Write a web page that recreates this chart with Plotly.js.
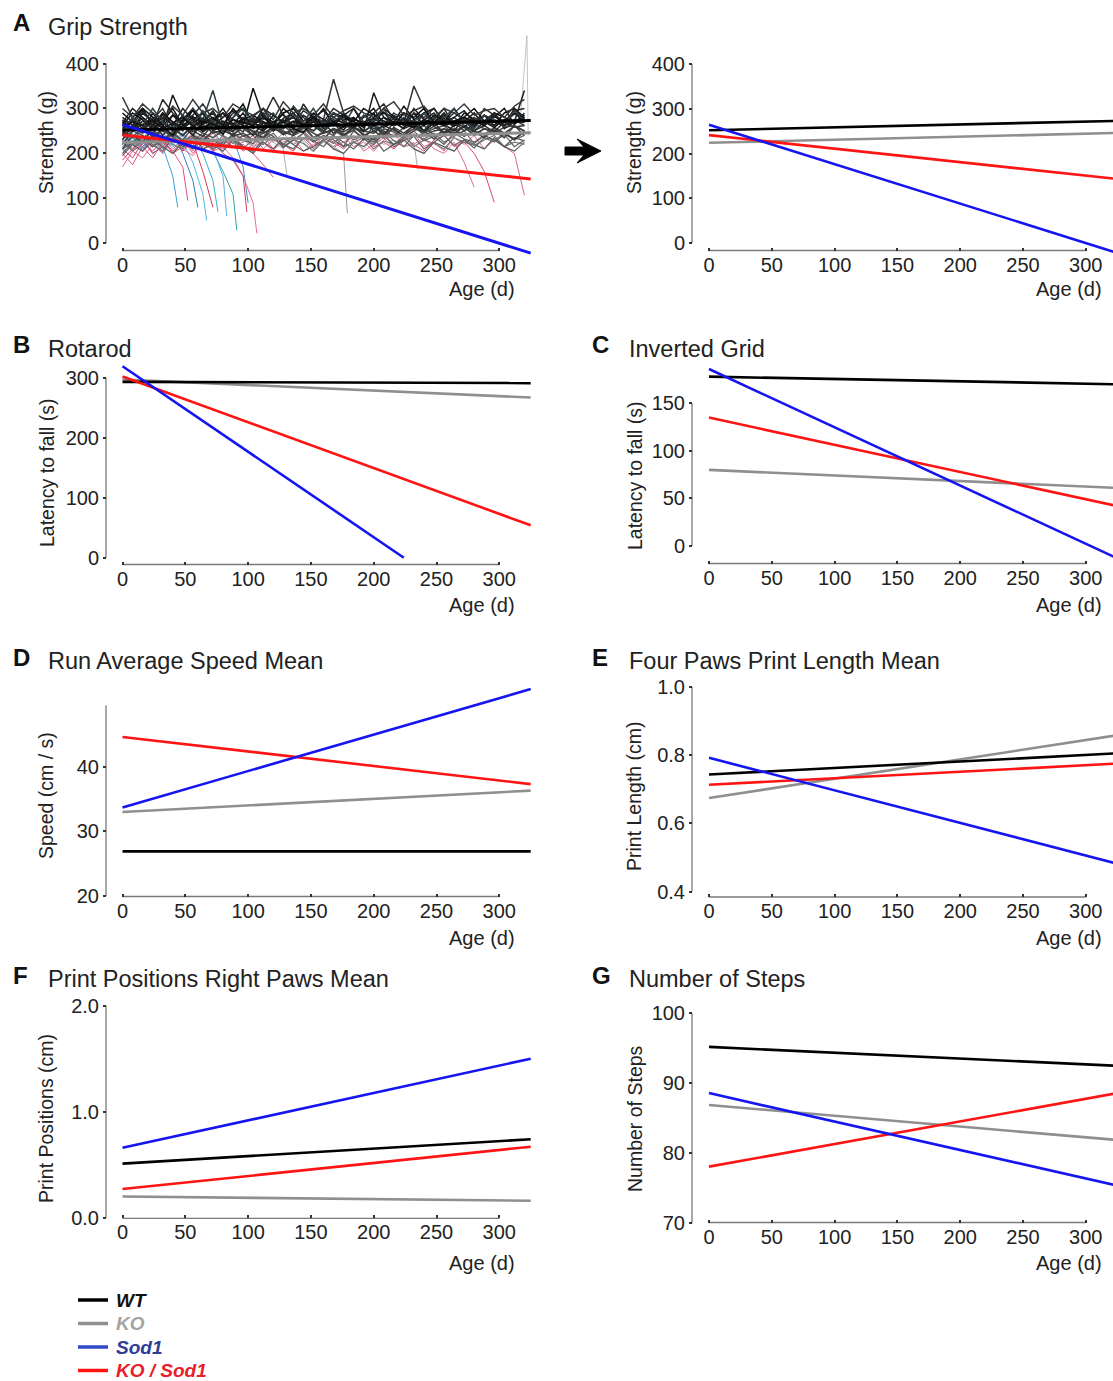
<!DOCTYPE html>
<html><head><meta charset="utf-8">
<script src="https://cdn.plot.ly/plotly-3.0.1.min.js"></script>
<style>html,body{margin:0;padding:0;background:#fff;overflow:hidden}#chart{width:1113px;height:1381px}</style>
</head><body><div id="chart"></div>
<script>
// ---------------- DATA ----------------
const groupNames = ['WT', 'KO', 'Sod1', 'KO / Sod1'];
const xTickVals = [0, 50, 100, 150, 200, 250, 300];
const xTickText = ['0', '50', '100', '150', '200', '250', '300'];
const meanAges = [0, 325];

// Grip strength regression lines (A)
const gripWT = [252, 273];
const gripKO = [224, 246];
const gripSod1 = [264, -22];
const gripKOSod1 = [241, 143];
// Rotarod (B)
const rotaWT = [293, 291];
const rotaKO = [297, 267];
const rotaSod1Ages = [0, 224];
const rotaSod1 = [319, 0];
const rotaKOSod1 = [302, 54];
// Inverted grid (C)
const gridWT = [178, 170];
const gridKO = [80, 61];
const gridSod1 = [186, -13];
const gridKOSod1 = [135, 42];
// Run average speed mean (D)
const speedWT = [26.9, 26.9];
const speedKO = [33.0, 36.3];
const speedSod1 = [33.7, 52.0];
const speedKOSod1 = [44.6, 37.3];
// Four paws print length mean (E)
const lengthWT = [0.743, 0.805];
const lengthKO = [0.674, 0.858];
const lengthSod1 = [0.792, 0.482];
const lengthKOSod1 = [0.713, 0.775];
// Print positions right paws mean (F)
const posWT = [0.51, 0.74];
const posKO = [0.20, 0.16];
const posSod1 = [0.66, 1.50];
const posKOSod1 = [0.27, 0.67];
// Number of steps (G)
const stepsWT = [95.2, 92.5];
const stepsKO = [86.9, 81.9];
const stepsSod1 = [88.6, 75.4];
const stepsKOSod1 = [78.1, 88.6];

// y tick values / labels
const gripTicks = [0, 100, 200, 300, 400];
const gripTickText = ['0', '100', '200', '300', '400'];
const rotaTicks = [0, 100, 200, 300];
const rotaTickText = ['0', '100', '200', '300'];
const gridTicks = [0, 50, 100, 150];
const gridTickText = ['0', '50', '100', '150'];
const speedTicks = [20, 30, 40];
const speedTickText = ['20', '30', '40'];
const lengthTicks = [0.4, 0.6, 0.8, 1.0];
const lengthTickText = ['0.4', '0.6', '0.8', '1.0'];
const posTicks = [0, 1, 2];
const posTickText = ['0.0', '1.0', '2.0'];
const stepsTicks = [70, 80, 90, 100];
const stepsTickText = ['70', '80', '90', '100'];

// Individual grip-strength traces (A, left) - ages in days
const ages = [0,8,16,24,32,40,48,56,64,72,80,88,96,104,112,120,128,136,144,152,160,168,176,184,192,200,208,216,224,232,240,248,256,264,272,280,288,296,304,312,320];
const w1 = [255,270,248,290,262,240,275,300,258,266,242,280,310,262,250,270,288,255,246,272,300,268,252,280,262,290,258,270,305,276,250,268,290,262,275,258,285,270,262,300,275];
const w2 = [240,280,300,262,250,285,262,240,270,295,258,248,276,262,288,250,270,262,310,278,255,265,290,270,250,335,280,262,270,258,290,300,265,250,280,272,262,290,255,270,340];
const w3 = [230,262,250,275,300,258,240,265,290,250,270,262,248,282,300,262,255,270,262,250,275,365,290,262,270,255,260,285,268,350,300,262,270,280,262,250,270,262,275,265,280];
const w4 = [275,250,290,270,258,330,280,262,250,272,300,265,290,255,270,262,300,280,262,270,258,290,272,262,280,300,265,270,255,290,262,275,300,262,270,290,262,280,300,265,290];
const w5 = [210,240,225,255,230,245,270,240,228,250,262,238,245,230,255,270,242,250,262,235,248,270,240,252,230,262,245,255,238,265,250,232,255,245,260,240,255,250,235,262,240];
const w6 = [325,280,262,240,290,270,250,300,275,340,262,250,280,270,290,262,255,305,280,262,250,270,262,300,270,250,262,290,275,262,250,280,262,270,250,262,285,270,262,275,262];
const w7 = [200,225,240,215,230,250,225,210,240,228,218,245,230,222,250,238,215,230,245,225,240,230,215,250,235,225,240,220,235,250,228,238,220,245,232,225,240,230,215,235,228];
const w8 = [245,220,235,250,228,240,215,235,225,250,238,222,240,228,245,232,220,240,250,228,235,222,245,230,240,225,250,228,215,240,232,245,225,238,250,222,240,228,245,230,240];
const w9 = [262,290,275,255,270,300,262,280,255,270,290,275,262,345,280,262,270,255,285,270,262,290,275,280,262,270,300,282,262,275,290,262,270,300,268,275,262,285,270,290,270];
const w10 = [220,250,265,235,255,240,262,250,238,265,250,242,260,248,235,262,250,240,258,245,232,255,248,260,240,250,235,258,245,262,240,250,255,240,262,248,235,255,245,230,250];
const w11 = [268,300,280,262,320,290,270,285,310,275,262,290,300,270,280,325,285,262,295,280,270,300,285,262,280,290,310,275,262,290,280,300,270,290,275,262,300,285,270,295,300];
const w12 = [250,235,260,245,270,255,240,262,275,250,245,265,255,240,268,250,262,245,255,270,250,240,262,255,248,265,250,238,258,270,245,255,262,240,250,265,255,245,258,262,250];
const w13 = [290,270,300,280,262,285,272,295,268,280,262,300,275,285,270,262,290,300,272,282,265,290,280,270,300,285,272,262,290,280,300,270,285,262,280,300,272,290,280,270,285];
const w14 = [225,205,230,215,240,220,210,235,225,215,240,228,210,232,220,238,212,230,222,205,228,240,215,225,235,210,228,220,240,215,230,222,210,235,225,218,230,240,215,225,220];
const w15 = [195,220,205,230,215,200,225,240,210,220,205,230,215,200,225,210,235,220,205,215,230,210,200,225,215,235,205,220,230,210,200,225,215,205,230,220,210,235,215,205,225];
const w16 = [280,262,295,270,285,262,300,275,290,262,280,295,270,262,300,285,270,290,262,280,295,270,285,300,262,275,290,280,265,300,275,290,262,280,295,270,285,262,290,300,280];
const w17 = [245,262,250,270,240,265,255,275,248,262,270,250,262,240,268,255,275,245,262,250,268,245,260,272,250,262,240,270,255,265,250,268,245,262,275,250,262,248,270,258,262];
const w18 = [262,275,255,280,268,250,285,262,272,290,258,275,265,280,262,255,278,290,265,272,262,280,268,255,285,270,262,278,290,265,272,262,285,270,258,280,268,290,262,275,268];
const w19 = [232,250,240,225,255,242,230,258,245,235,250,262,238,245,232,255,248,240,258,235,245,252,238,260,242,230,255,248,235,250,262,240,248,255,238,250,242,258,245,232,248];
const w20 = [300,280,310,290,275,305,285,320,290,300,280,310,295,285,300,275,315,290,300,285,310,280,295,305,290,280,300,315,285,295,305,280,300,290,310,285,295,300,280,305,320];
const w21 = [210,225,240,220,205,235,215,228,245,210,225,238,215,205,230,245,220,210,235,228,215,240,225,210,232,220,245,215,228,238,210,225,240,218,230,212,235,225,242,215,230];
const w22 = [270,255,280,262,290,270,258,282,265,275,290,262,278,270,255,285,268,280,262,290,275,262,285,270,258,280,292,265,278,270,262,285,272,260,290,275,262,282,270,288,278];
const w23 = [250,280,262,300,270,255,285,265,295,270,255,280,300,265,275,290,260,285,270,300,262,290,275,255,285,270,300,262,280,270,290,265,280,300,270,255,285,275,262,295,272];
const w24 = [258,270,262,275,255,268,280,260,272,265,258,275,268,262,280,270,258,272,265,278,262,270,258,275,268,262,280,270,265,258,275,268,262,272,280,265,270,258,275,268,272];
const w25 = [268,255,272,262,280,265,258,270,278,262,272,265,258,275,268,262,272,280,265,270,262,275,268,258,270,278,262,268,275,262,270,265,278,262,268,275,265,272,262,270,276];
const w26 = [240,255,245,262,250,238,258,248,265,245,252,240,260,250,245,258,242,255,248,262,245,255,240,258,250,245,262,252,240,255,248,260,245,252,258,242,255,250,245,260,250];
const spikeAges = [316, 322, 323];
const spikeVals = [250, 462, 240];
// grey (KO) traces that stop early
const g1Ages = [0,8,16,24,32,40,48,56,64,72,80,88,96,104,112,120,128,136,144,152,160,168,176,179];
const g1 = [215,235,220,240,210,230,245,225,215,235,220,240,230,215,235,225,245,220,230,210,225,215,200,67];
const g2Ages = [0,8,16,24,32,40,48,56,64,72,80,88,96,104,112,120,128,136,144,152,160,168,176,184,192,200,208,216,224,232,235];
const g2 = [230,215,240,225,210,235,220,245,230,215,225,240,210,230,220,235,215,240,225,205,230,215,240,225,210,235,220,230,215,225,165];
const g3Ages = [0,8,16,24,32,40,48,56,64,72,80,88,96,104,112,120,128,131];
const g3 = [225,240,215,230,245,220,235,210,240,225,230,215,240,220,235,225,210,150];
// Sod1 (cyan / blue) traces
const c1Ages = [0,8,16,24,32,40,44];
const c1 = [230,210,235,200,215,150,80];
const c2Ages = [0,8,16,24,32,40,48,56,60];
const c2 = [250,225,260,235,220,245,200,140,80];
const c3Ages = [0,8,16,24,32,40,48,56,64,67];
const c3 = [215,240,205,230,250,215,225,180,110,51];
const c4Ages = [0,8,16,24,32,40,48,56,64,72,80,88,91];
const c4 = [240,222,255,230,215,245,228,210,235,205,160,110,29];
const c5Ages = [0,8,16,24,32,40,48,56,64,72,80,83];
const c5 = [205,230,215,240,200,225,245,215,230,210,150,60];
const c6Ages = [0,8,16,24,32,40,48,56,64,72,80,88,96,100];
const c6 = [225,245,215,235,260,225,240,215,230,250,220,235,170,90];
const c7Ages = [0,8,16,24,32,40,48,56,64,72,76];
const c7 = [220,240,210,235,225,245,215,230,200,140,70];
// KO / Sod1 (pink / red) traces
const r1Ages = [0,8,16,24,32,40,48,52];
const r1 = [200,175,215,190,225,205,170,95];
const r2Ages = [0,8,16,24,32,40,48,56,64,72];
const r2 = [185,210,230,200,215,240,205,225,160,80];
const r3Ages = [0,8,16,24,32,40,48,56,64,72,80,88,96,104,107];
const r3 = [170,205,190,220,200,235,210,195,225,205,215,190,150,90,22];
const r4Ages = [0,8,16,24,32,40,48,56,64,72,80,88,96,99];
const r4 = [210,190,225,205,230,200,215,240,210,225,200,185,150,70];
const r5Ages = [0,8,16,24,32,40,48,56,64,72,80,88,96,104,112,120];
const r5 = [230,205,220,245,215,235,210,225,240,205,230,215,220,200,175,147];
const r6Ages = [0,8,16,24,32,40,48,56,64,72,80,88,96,104,112,120,128,136,144,152,160,168,176,184,192,200,208,216,224,232,240,248,256,264,272,280];
const r6 = [215,235,205,225,240,210,230,200,225,245,215,230,205,220,240,210,225,235,205,220,230,210,240,215,225,205,230,245,215,220,235,210,200,225,180,125];
const r7Ages = [0,8,16,24,32,40,48,56,64,72,80,88,96,104,112,120,128,136,144,152,160,168,176,184,192,200,208,216,224,232,240,248,256,264,272,280,288,296];
const r7 = [225,210,240,215,230,205,225,245,220,210,235,215,225,240,210,230,220,205,235,215,240,225,210,230,245,215,225,210,235,220,205,230,240,215,225,200,160,91];
const r8 = [220,240,210,230,215,245,225,205,235,220,210,230,240,215,225,205,235,220,245,210,230,215,225,240,205,220,235,210,230,245,215,225,205,235,220,240,210,230,215,200,107];

// ---------------- LAYOUT HELPERS ----------------
const W = 1113, H = 1381;
const fx = p => p / W;
const fy = p => 1 - p / H;
const FONT = 'Liberation Sans, Arial, Helvetica, sans-serif';
const TXT = '#222222';
const AXL = '#7a7a7a';
const C = {WT: '#000000', KO: '#8f8f8f', Sod1: '#1515f2', KOSod1: '#ff1414'};
const PPD = 1.256; // pixels per day

// pixel geometry of each panel
const panels = [
  {col: 0, x0: 122.5, yl: 106, vA: 400, pA: 63.5, vB: 0, pB: 243.3, top: 28, bot: 262, axY: 250.5, ticks: gripTicks, tt: gripTickText, lo: 0, hi: 400},
  {col: 1, x0: 709, yl: 692, vA: 400, pA: 64, vB: 0, pB: 243, top: 28, bot: 262, axY: 250.5, ticks: gripTicks, tt: gripTickText, lo: 0, hi: 400},
  {col: 0, x0: 122.5, yl: 106, vA: 300, pA: 377.7, vB: 0, pB: 557.7, top: 355, bot: 575, axY: 564.5, ticks: rotaTicks, tt: rotaTickText, lo: 0, hi: 300},
  {col: 1, x0: 709, yl: 692, vA: 150, pA: 403.3, vB: 0, pB: 546, top: 355, bot: 575, axY: 563.5, ticks: gridTicks, tt: gridTickText, lo: 0, hi: 150},
  {col: 0, x0: 122.5, yl: 106, vA: 40, pA: 766.7, vB: 20, pB: 896, top: 672, bot: 905, axY: 896.5, ticks: speedTicks, tt: speedTickText, lo: 20, hi: 49.5},
  {col: 1, x0: 709, yl: 692, vA: 1.0, pA: 686.7, vB: 0.4, pB: 891.7, top: 672, bot: 905, axY: 897, ticks: lengthTicks, tt: lengthTickText, lo: 0.4, hi: 1.0},
  {col: 0, x0: 122.5, yl: 106, vA: 2, pA: 1005.7, vB: 0, pB: 1217.7, top: 990, bot: 1230, axY: 1218.3, ticks: posTicks, tt: posTickText, lo: 0, hi: 2},
  {col: 1, x0: 709, yl: 692, vA: 100, pA: 1013.3, vB: 70, pB: 1223.3, top: 990, bot: 1232, axY: 1222.5, ticks: stepsTicks, tt: stepsTickText, lo: 70, hi: 100}
];

const layout = {
  width: W, height: H,
  margin: {l: 0, r: 0, t: 0, b: 0, autoexpand: false},
  paper_bgcolor: '#ffffff', plot_bgcolor: 'rgba(0,0,0,0)',
  font: {family: FONT, color: TXT},
  showlegend: false,
  shapes: [], annotations: []
};

panels.forEach((p, i) => {
  const n = i + 1;
  const xa = 'xaxis' + (n === 1 ? '' : n);
  const ya = 'yaxis' + (n === 1 ? '' : n);
  const xr = 'x' + (n === 1 ? '' : n);
  const yr = 'y' + (n === 1 ? '' : n);
  const L = p.col === 0 ? 107 : 693, R = p.col === 0 ? 548 : 1113;
  const vOf = px => p.vB + (px - p.pB) * (p.vA - p.vB) / (p.pA - p.pB);
  layout[xa] = {
    domain: [fx(L), fx(R)], range: [(L - p.x0) / PPD, (R - p.x0) / PPD],
    anchor: 'free', position: fy(p.axY),
    tickmode: 'array', tickvals: xTickVals, ticktext: xTickText,
    ticks: 'inside', ticklen: 3, tickwidth: 2, tickcolor: '#333',
    showline: false, showgrid: false, zeroline: false,
    tickfont: {family: FONT, size: 20, color: TXT}, fixedrange: true
  };
  layout[ya] = {
    domain: [fy(p.bot), fy(p.top)], range: [vOf(p.bot), vOf(p.top)],
    anchor: 'free', position: fx(p.yl),
    tickmode: 'array', tickvals: p.ticks, ticktext: p.tt,
    ticks: 'outside', ticklen: 3, tickwidth: 2, tickcolor: '#333',
    showline: false, showgrid: false, zeroline: false,
    tickfont: {family: FONT, size: 20, color: TXT}, fixedrange: true
  };
  // detached axis lines
  layout.shapes.push({type: 'line', xref: 'paper', yref: yr, x0: fx(p.yl), x1: fx(p.yl), y0: p.lo, y1: p.hi,
                      line: {color: AXL, width: 1.3}, layer: 'below'});
  layout.shapes.push({type: 'line', xref: xr, yref: 'paper', x0: 0, x1: 300, y0: fy(p.axY), y1: fy(p.axY),
                      line: {color: AXL, width: 1.3}, layer: 'below'});
});

// text annotations
function ann(text, x, y, opts) {
  layout.annotations.push(Object.assign({text: text, xref: 'paper', yref: 'paper', x: fx(x), y: fy(y),
    showarrow: false, xanchor: 'left', yanchor: 'middle', font: {family: FONT, size: 22, color: TXT}}, opts || {}));
}
const letters = [['A', 11, 22], ['B', 11, 345], ['C', 590, 345], ['D', 11, 657], ['E', 590, 657], ['F', 11, 975], ['G', 590, 975]];
letters.forEach(l => ann('<b>' + l[0] + '</b>', l[1], l[2], {font: {family: FONT, size: 24, color: '#111'}}));
const titles = [['Grip Strength', 46, 27], ['Rotarod', 46, 349], ['Inverted Grid', 627, 349], ['Run Average Speed Mean', 46, 661],
                ['Four Paws Print Length Mean', 627, 661], ['Print Positions Right Paws Mean', 46, 979], ['Number of Steps', 627, 979]];
titles.forEach(t => ann(t[0], t[1], t[2], {font: {family: FONT, size: 23.5, color: TXT}}));
const ageLabels = [[517, 289], [1104, 289], [517, 605], [1104, 605], [517, 938], [1104, 938], [517, 1263], [1104, 1263]];
ageLabels.forEach(a => ann('Age (d)', a[0], a[1], {xanchor: 'right', font: {family: FONT, size: 20, color: TXT}}));
const yTitles = [['Strength (g)', 46, 143], ['Strength (g)', 634, 143], ['Latency to fall (s)', 47, 473], ['Latency to fall (s)', 635, 476],
                 ['Speed (cm / s)', 46, 796], ['Print Length (cm)', 634, 796], ['Print Positions (cm)', 46, 1119], ['Number of Steps', 635, 1119]];
yTitles.forEach(t => ann(t[0], t[1], t[2], {xanchor: 'center', textangle: -90, font: {family: FONT, size: 19.5, color: TXT}}));

// legend (line swatch + coloured bold-italic label)
const legendRows = [
  {key: 'WT', name: groupNames[0], line: '#000000', text: '#111111', y: 1300},
  {key: 'KO', name: groupNames[1], line: '#8f8f8f', text: '#a3a3a3', y: 1323.5},
  {key: 'Sod1', name: groupNames[2], line: '#2f49c8', text: '#2e3d96', y: 1347},
  {key: 'KOSod1', name: groupNames[3], line: '#ff1414', text: '#e8202a', y: 1370.5}
];
legendRows.forEach(r => {
  layout.shapes.push({type: 'line', xref: 'paper', yref: 'paper', x0: fx(78), x1: fx(108), y0: fy(r.y), y1: fy(r.y),
                      line: {color: r.line, width: 3.5}});
  ann('<b><i>' + r.name + '</i></b>', 114, r.y, {font: {family: FONT, size: 19, color: r.text}});
});

// arrow between the two grip-strength plots
const arrowPts = [[565, 147], [584, 147], [577, 139], [601, 151], [577, 163], [584, 155], [565, 155]];
layout.shapes.push({type: 'path', xref: 'paper', yref: 'paper',
  path: 'M' + arrowPts.map(q => fx(q[0]) + ',' + fy(q[1])).join(' L') + ' Z',
  fillcolor: '#000', line: {color: '#000', width: 1}});

// ---------------- TRACES ----------------
const traces = [];
function indiv(x, y, color, width) {
  traces.push({type: 'scatter', mode: 'lines', x: x, y: y, xaxis: 'x', yaxis: 'y',
    line: {color: color, width: width || 1.0}, showlegend: false, hoverinfo: 'skip'});
}
// KO / Sod1 & Sod1 individual traces first (underneath)
indiv(r6Ages, r6, '#e46a8e'); indiv(r7Ages, r7, '#d8486e'); indiv(ages, r8, '#e0609a');
indiv(g2Ages, g2, '#a8a8a8'); indiv(g1Ages, g1, '#9b9b9b'); indiv(g3Ages, g3, '#b0b0b0');
indiv(spikeAges, spikeVals, '#b5b5b5', 0.8);
indiv(c1Ages, c1, '#3aa0d8'); indiv(c2Ages, c2, '#2f7fc0'); indiv(c3Ages, c3, '#4fb8e0');
indiv(c4Ages, c4, '#2aa8a0'); indiv(c5Ages, c5, '#5ab0e8'); indiv(c6Ages, c6, '#3a8fd0'); indiv(c7Ages, c7, '#35b0c8');
indiv(r1Ages, r1, '#e0508a'); indiv(r2Ages, r2, '#d93a5a'); indiv(r3Ages, r3, '#e86a9a');
indiv(r4Ages, r4, '#d04060'); indiv(r5Ages, r5, '#e05070');
// WT / KO individual traces
const DW = 1.5;
indiv(ages, w15, '#5a5a5a', 1.2); indiv(ages, w14, '#777777', 1.2); indiv(ages, w7, '#555555', 1.2); indiv(ages, w8, '#666666', 1.2);
indiv(ages, w21, '#606060', 1.2); indiv(ages, w19, '#505050', DW);
indiv(ages, w5, '#444444', DW); indiv(ages, w10, '#3c3c3c', DW); indiv(ages, w12, '#4a4a4a', DW); indiv(ages, w17, '#303030', DW);
indiv(ages, w26, '#3a3a3a', DW);
indiv(ages, w1, '#111111', DW); indiv(ages, w2, '#222222', DW); indiv(ages, w3, '#333333', DW); indiv(ages, w4, '#1a1a1a', DW);
indiv(ages, w6, '#2b3a42', DW); indiv(ages, w9, '#111111', DW); indiv(ages, w11, '#2a2a2a', DW); indiv(ages, w13, '#0d0d0d', DW);
indiv(ages, w16, '#1c1c1c', DW); indiv(ages, w18, '#262626', DW); indiv(ages, w20, '#383838', DW); indiv(ages, w22, '#141414', DW);
indiv(ages, w23, '#2e4048', DW); indiv(ages, w24, '#101010', DW); indiv(ages, w25, '#1e1e1e', DW);

const sets = [
  {wt: gripWT, ko: gripKO, s: gripSod1, ks: gripKOSod1, sAges: meanAges},
  {wt: gripWT, ko: gripKO, s: gripSod1, ks: gripKOSod1, sAges: meanAges},
  {wt: rotaWT, ko: rotaKO, s: rotaSod1, ks: rotaKOSod1, sAges: rotaSod1Ages},
  {wt: gridWT, ko: gridKO, s: gridSod1, ks: gridKOSod1, sAges: meanAges},
  {wt: speedWT, ko: speedKO, s: speedSod1, ks: speedKOSod1, sAges: meanAges},
  {wt: lengthWT, ko: lengthKO, s: lengthSod1, ks: lengthKOSod1, sAges: meanAges},
  {wt: posWT, ko: posKO, s: posSod1, ks: posKOSod1, sAges: meanAges},
  {wt: stepsWT, ko: stepsKO, s: stepsSod1, ks: stepsKOSod1, sAges: meanAges}
];
sets.forEach((s, i) => {
  const n = i + 1;
  const xr = 'x' + (n === 1 ? '' : n), yr = 'y' + (n === 1 ? '' : n);
  const w = (n === 1) ? 3 : 2.6;
  const mk = (x, y, key, name) => traces.push({type: 'scatter', mode: 'lines', x: x, y: y, xaxis: xr, yaxis: yr,
    line: {color: C[key], width: w}, name: name, showlegend: false, hoverinfo: 'skip'});
  mk(meanAges, s.ko, 'KO', groupNames[1]);
  mk(meanAges, s.wt, 'WT', groupNames[0]);
  mk(meanAges, s.ks, 'KOSod1', groupNames[3]);
  mk(s.sAges, s.s, 'Sod1', groupNames[2]);
});

Plotly.newPlot('chart', traces, layout, {staticPlot: true, displayModeBar: false});
</script></body></html>
